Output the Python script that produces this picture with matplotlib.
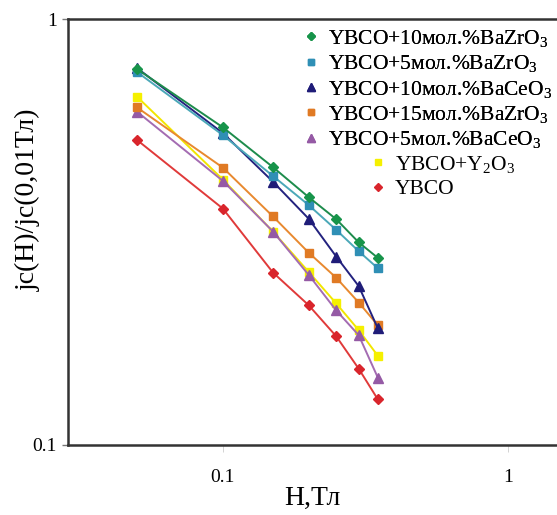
import matplotlib
matplotlib.use("Agg")
import matplotlib.pyplot as plt
from matplotlib.lines import Line2D
from matplotlib.ticker import FixedLocator, FixedFormatter, NullLocator

plt.rcParams['font.family'] = ['Liberation Serif', 'DejaVu Serif']
plt.rcParams['mathtext.fontset'] = 'custom'
plt.rcParams['mathtext.rm'] = 'Liberation Serif'
plt.rcParams['mathtext.it'] = 'Liberation Serif:italic'

# field values, T
h = [0.05, 0.1, 0.15, 0.2, 0.25, 0.3, 0.35]

# normalised jc for each sample
zr10 = [0.763, 0.557, 0.449, 0.382, 0.339, 0.299, 0.275]
zr5 = [0.751, 0.534, 0.428, 0.366, 0.320, 0.285, 0.260]
ce10 = [0.767, 0.540, 0.415, 0.340, 0.277, 0.236, 0.188]
zr15 = [0.620, 0.448, 0.344, 0.283, 0.247, 0.216, 0.191]
ce5 = [0.606, 0.417, 0.317, 0.251, 0.207, 0.181, 0.144]
y2o3 = [0.657, 0.420, 0.317, 0.255, 0.215, 0.186, 0.162]
ybco = [0.520, 0.359, 0.254, 0.213, 0.180, 0.151, 0.128]

labels = [
    r'YBCO+10мол.%BaZrO$_\mathregular{3}$',
    r'YBCO+5мол.%BaZrO$_\mathregular{3}$',
    r'YBCO+10мол.%BaCeO$_\mathregular{3}$',
    r'YBCO+15мол.%BaZrO$_\mathregular{3}$',
    r'YBCO+5мол.%BaCeO$_\mathregular{3}$',
    r'YBCO+Y$_\mathregular{2}$O$_\mathregular{3}$',
    'YBCO',
]

series = [zr10, zr5, ce10, zr15, ce5, y2o3, ybco]
line_colors = ['#1d8c4c', '#4ba8b8', '#23227f', '#e8892f', '#a46cb2', '#f2e600', '#e03a3a']
marker_colors = ['#17944a', '#2f8fb5', '#1f1c78', '#e07a24', '#955aa5', '#f5f000', '#d9252c']
markers = ['D', 's', '^', 's', '^', 's', 'D']
msizes = [5, 6, 7, 6, 7, 6, 5]

fig = plt.figure(figsize=(5.57, 5.15), dpi=100)
ax = fig.add_axes([0.122, 0.136, 0.878, 0.827])

# draw bottom series first so the upper ones sit on top
for i in reversed(range(len(series))):
    ax.plot(h, series[i], color=line_colors[i], lw=1.4, marker=markers[i],
            ms=msizes[i], mfc=marker_colors[i], mec=marker_colors[i], zorder=3 + (7 - i))

ax.set_xscale('log')
ax.set_yscale('log')
ax.set_xlim(0.0286, 1.49)
ax.set_ylim(0.1, 1)

ax.xaxis.set_major_locator(FixedLocator([0.1, 1]))
ax.xaxis.set_major_formatter(FixedFormatter(['0.1', '1']))
ax.yaxis.set_major_locator(FixedLocator([0.1, 1]))
ax.yaxis.set_major_formatter(FixedFormatter(['0.1', '1']))
ax.xaxis.set_minor_locator(NullLocator())
ax.yaxis.set_minor_locator(NullLocator())

for s in ['left', 'bottom', 'top']:
    ax.spines[s].set_linewidth(1.8)
    ax.spines[s].set_color('#333333')
ax.spines['right'].set_visible(False)

ax.tick_params(axis='y', direction='out', length=4, width=1, color='#777777',
               labelsize=14, pad=4)
ax.tick_params(axis='x', direction='out', length=5, width=0.6, color='#cccccc',
               labelsize=14, pad=12)

ax.set_xlabel('H,Тл', fontsize=20, labelpad=0)
ax.set_ylabel('jc(H)/jc(0,01Тл)', fontsize=20)
ax.yaxis.set_label_coords(-0.055, 0.575)

handles = [Line2D([], [], ls='none', marker=markers[i], ms=msizes[i] - 1,
                  mfc=marker_colors[i], mec=marker_colors[i]) for i in range(7)]

leg1 = fig.legend(handles[:5], labels[:5], loc='upper left',
                  bbox_to_anchor=(305 / 557, 1 - 28 / 515), frameon=False,
                  fontsize=15.5, handlelength=0.6, handletextpad=0.45,
                  labelspacing=0.2, borderpad=0, borderaxespad=0)
fig.legend(handles[5:], labels[5:], loc='upper left',
           bbox_to_anchor=(372 / 557, 1 - 154 / 515), frameon=False,
           fontsize=15.5, handlelength=0.6, handletextpad=0.45,
           labelspacing=0.2, borderpad=0, borderaxespad=0)
fig.add_artist(leg1)

fig.savefig('out.png', dpi=100)
